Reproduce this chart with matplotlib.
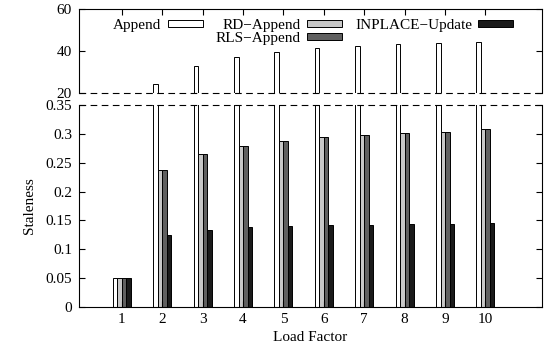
#!/usr/bin/env python3

import numpy as np
from matplotlib import pyplot as plt
from matplotlib.patches import Rectangle

plt.rcParams['font.family'] = ['Liberation Serif', 'DejaVu Serif']
plt.rcParams['font.size'] = 11

load = [1, 2, 3, 4, 5, 6, 7, 8, 9, 10]
append = [0.05, 24.3, 33.0, 37.0, 39.7, 41.3, 42.4, 43.5, 44.0, 44.4]
rd_append = [0.05, 0.237, 0.265, 0.279, 0.288, 0.295, 0.298, 0.301, 0.303, 0.308]
rls_append = [0.05, 0.237, 0.265, 0.279, 0.288, 0.295, 0.298, 0.301, 0.303, 0.308]
inplace = [0.05, 0.125, 0.134, 0.138, 0.141, 0.142, 0.142, 0.144, 0.143, 0.145]

names = ['Append', 'RD\u2212Append', 'RLS\u2212Append', 'INPLACE\u2212Update']
colors = ['white', '#c8c8c8', '#606060', '#1a1a1a']
series = [append, rd_append, rls_append, inplace]

fig = plt.figure(figsize=(5.52, 3.46), dpi=100)
ax_top = fig.add_axes([0.1431, 0.7312, 0.8388, 0.2428])
ax_bot = fig.add_axes([0.1431, 0.1127, 0.8388, 0.5838])

w = 0.111
x = np.array(load)
bars = []
for ax in (ax_top, ax_bot):
    for i, (vals, c) in enumerate(zip(series, colors)):
        b = ax.bar(x + (i - 1.5) * w, vals, width=w, color=c,
                   edgecolor='black', linewidth=0.7)
        if ax is ax_bot:
            bars.append(b)
    ax.set_xlim(-0.06, 11.4)
    ax.tick_params(direction='in', length=4, width=0.8, pad=5)

ax_top.set_ylim(20, 60)
ax_top.set_yticks([20, 40, 60])
ax_top.set_xticks(load)
ax_top.tick_params(axis='x', bottom=False, top=True, labelbottom=False)
ax_top.tick_params(axis='y', right=True)
ax_top.spines['bottom'].set_visible(False)
ax_top.axhline(20, color='black', lw=0.8, ls=(0, (6, 4)), clip_on=False)

ax_bot.set_ylim(0, 0.35)
ax_bot.set_yticks([0, 0.05, 0.1, 0.15, 0.2, 0.25, 0.3, 0.35],
                  ['0', '0.05', '0.1', '0.15', '0.2', '0.25', '0.3', '0.35'])
ax_bot.set_xticks(load)
ax_bot.tick_params(axis='x', top=False, pad=4)
ax_bot.tick_params(axis='y', right=True)
ax_bot.spines['top'].set_visible(False)
ax_bot.axhline(0.35, color='black', lw=0.8, ls=(0, (6, 4)), clip_on=False)

for ax in (ax_top, ax_bot):
    for s in ax.spines.values():
        s.set_linewidth(0.8)

ax_bot.set_xlabel('Load Factor', labelpad=4)
ax_bot.set_ylabel('Staleness', labelpad=7)

blank = Rectangle((0, 0), 1, 1, fill=False, edgecolor='none')
handles = [bars[0], blank, bars[1], bars[2], bars[3], blank]
labels = [names[0], '', names[1], names[2], names[3], '']
ax_top.legend(handles, labels, ncol=3, markerfirst=False, frameon=False,
              loc='upper center', bbox_to_anchor=(0.506, 0.88),
              handlelength=2.3, handleheight=0.35, handletextpad=0.4,
              columnspacing=0.85, labelspacing=0.0, borderpad=0,
              borderaxespad=0)

fig.savefig('out.png', dpi=100)
